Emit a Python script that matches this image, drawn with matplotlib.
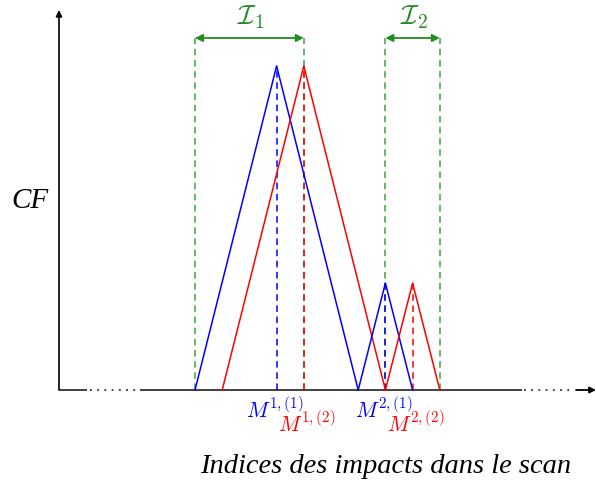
import matplotlib
matplotlib.use("Agg")
import matplotlib.pyplot as plt

plt.rcParams['mathtext.fontset'] = 'cm'

# data (index units, relative CF heights)
blue1_x = [0, 3, 6]
blue1_y = [0, 1.0, 0]
red1_x = [1, 4, 7]
red1_y = [0, 1.0, 0]
blue2_x = [6, 7, 8]
blue2_y = [0, 0.33, 0]
red2_x = [7, 8, 9]
red2_y = [0, 0.33, 0]
intervals = [(0, 4), (7, 9)]
interval_labels = [r'$\mathcal{I}_1$', r'$\mathcal{I}_2$']
blue_peaks = [(3, 1.0), (7, 0.33)]
red_peaks = [(4, 1.0), (8, 0.33)]
blue_labels = [r'$M^{1,(1)}$', r'$M^{2,(1)}$']
red_labels = [r'$M^{1,(2)}$', r'$M^{2,(2)}$']

# pixel mapping helpers
U = 27.2
X0 = 195
Y0 = 390
H = 324
def px(p):
    return (p - X0) / U
def py(p):
    return (Y0 - p) / H

fig = plt.figure(figsize=(5.96, 4.86), dpi=100)
ax = fig.add_axes([0, 0, 1, 1])
ax.set_xlim(px(0), px(596))
ax.set_ylim(py(486), py(0))
ax.axis('off')

green = '#228b22'
green_d = '#3fa33f'
ilev = py(38)
dash = (0, (4.3, 3.0))

# dashed verticals
for (a, b) in intervals:
    for x in (a, b):
        ax.plot([x, x], [0, ilev], ls=dash, color=green_d, lw=1.1, zorder=2)
for (x, y) in blue_peaks:
    ax.plot([x, x], [0, y], ls=dash, color='blue', lw=1.1, zorder=3)
for (x, y) in red_peaks:
    ax.plot([x, x], [0, y], ls=dash, color='red', lw=1.1, zorder=3)

# triangles
ax.plot(blue1_x, blue1_y, color='blue', lw=1.1, zorder=4)
ax.plot(red1_x, red1_y, color='red', lw=1.1, zorder=4)
ax.plot(blue2_x, blue2_y, color='blue', lw=1.1, zorder=4)
ax.plot(red2_x, red2_y, color='red', lw=1.1, zorder=4)

# interval arrows
for (a, b), lab in zip(intervals, interval_labels):
    ax.annotate('', xy=(a, ilev), xytext=(b, ilev),
                arrowprops=dict(arrowstyle='<|-|>', color=green, lw=1.3,
                                mutation_scale=11, shrinkA=0, shrinkB=0))
    ax.text((a + b) / 2 + 0.05, py(17), lab, color=green, fontsize=20,
            ha='center', va='center')

# axes
axc = '#333333'
ax.plot([px(59), px(87)], [0, 0], color=axc, lw=1.3, solid_capstyle='butt')
ax.plot([px(90), px(139)], [0, 0], color=axc, lw=1.3, ls=(0, (1, 3)))
ax.plot([px(140), px(522)], [0, 0], color=axc, lw=1.3, solid_capstyle='butt')
ax.plot([px(524), px(574)], [0, 0], color=axc, lw=1.3, ls=(0, (1, 3)))
ax.annotate('', xy=(px(596), 0), xytext=(px(576), 0),
            arrowprops=dict(arrowstyle='-|>', color='black', lw=1.3,
                            mutation_scale=9, shrinkA=0, shrinkB=0))
ax.annotate('', xy=(px(59), py(10)), xytext=(px(59), 0),
            arrowprops=dict(arrowstyle='-|>', color='black', lw=1.2,
                            mutation_scale=9, shrinkA=0, shrinkB=0))

# peak labels
for (x, _), lab in zip(blue_peaks, blue_labels):
    ax.text(x - 0.05, py(410), lab, color='blue', fontsize=15.5, ha='center', va='center')
for (x, _), lab in zip(red_peaks, red_labels):
    ax.text(x + 0.1, py(424), lab, color='red', fontsize=15.5, ha='center', va='center')

# axis labels
ax.text(px(30), py(201), 'CF', fontsize=21, style='italic',
        family='Liberation Serif', ha='center', va='center')
ax.text(px(386), py(466), 'Indices des impacts dans le scan', fontsize=20.5,
        style='italic', family='Liberation Serif', ha='center', va='center')

fig.savefig('out.png', dpi=100)
